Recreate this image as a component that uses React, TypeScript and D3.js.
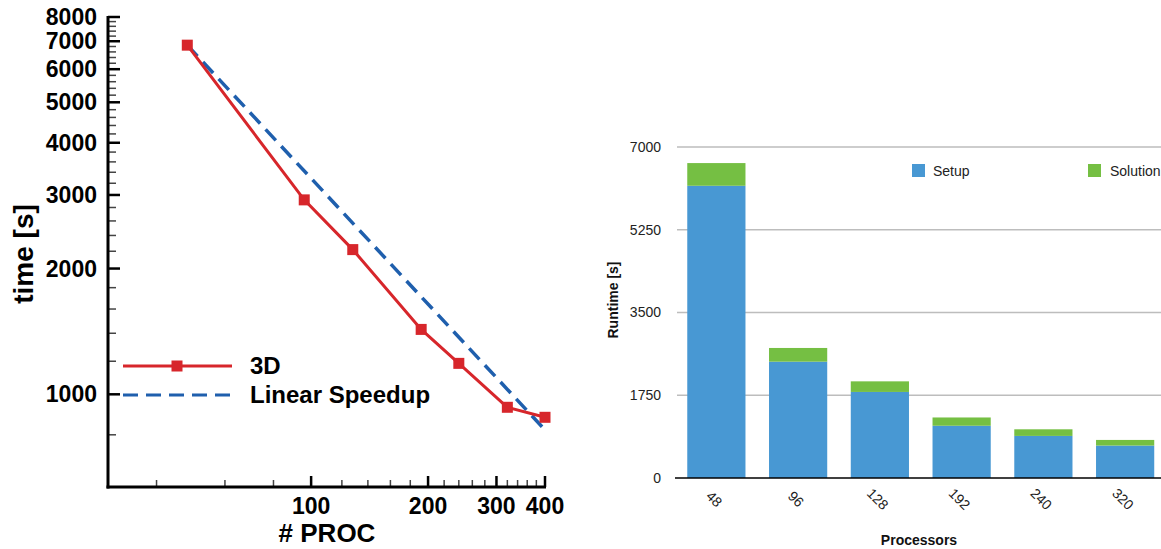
import React from 'react';
import * as d3 from 'd3';

// ---------- Left chart data (log-log scaling) ----------
const procs = [48, 96, 128, 192, 240, 320, 400];
const time3D = [6850, 2920, 2220, 1430, 1186, 931, 881];
const linearProcs = [48, 400];
const linearTime = [6850, 822];
const yMajorTicks = [1000, 2000, 3000, 4000, 5000, 6000, 7000, 8000];
const xMajorTicks = [100, 200, 300, 400];

// ---------- Right chart data (stacked bars) ----------
const barCategories = ['48', '96', '128', '192', '240', '320'];
const setupValues = [6180, 2460, 1820, 1105, 890, 686];
const solutionValues = [480, 290, 224, 175, 140, 119];
const runtimeTicks = [0, 1750, 3500, 5250, 7000];

const FONT = '"Liberation Sans", Arial, Helvetica, sans-serif';
const RED = '#d7262b';
const BLUE_DASH = '#1f5fad';
const BAR_BLUE = '#4898d3';
const BAR_GREEN = '#75bf43';

export default function App() {
  // Left chart scales
  const x = d3.scaleLog().domain([30, 400]).range([108, 545]);
  const y = d3.scaleLog().domain([600, 8000]).range([487, 17]);
  const xMinor = d3.range(40, 400, 20).filter((v) => !xMajorTicks.includes(v));
  const yMinor = d3.range(800, 8000, 200).filter((v) => !yMajorTicks.includes(v));

  const pts = procs.map((p, i) => [x(p), y(time3D[i])] as [number, number]);
  const line = d3.line();
  const linPts = linearProcs.map((p, i) => [x(p), y(linearTime[i])] as [number, number]);

  // Right chart scales
  const xb = d3.scaleBand().domain(barCategories).range([675, 1166.5]).paddingInner(0.288).paddingOuter(0.15);
  const yb = d3.scaleLinear().domain([0, 7000]).range([478, 147]);

  const ms = 11;

  return (
    <svg width={1161} height={549} style={{ position: 'absolute', left: 0, top: 0, background: '#fff' }} fontFamily={FONT}>
      <rect x={0} y={0} width={1161} height={549} fill="#fff" />
      {/* ===== Left chart ===== */}
      {yMinor.map((v) => (
        <line key={'ym' + v} x1={108} x2={116} y1={y(v)} y2={y(v)} stroke="#444" strokeWidth={1.5} />
      ))}
      {yMajorTicks.map((v) => (
        <g key={'yM' + v}>
          <line x1={108} x2={120} y1={y(v)} y2={y(v)} stroke="#000" strokeWidth={2.5} />
          <text x={97} y={y(v)} dy="0.35em" textAnchor="end" fontSize={23} fontWeight="bold" fill="#000">{v}</text>
        </g>
      ))}
      {xMinor.map((v) => (
        <line key={'xm' + v} x1={x(v)} x2={x(v)} y1={487} y2={480} stroke="#444" strokeWidth={1.5} />
      ))}
      {xMajorTicks.map((v) => (
        <g key={'xM' + v}>
          <line x1={x(v)} x2={x(v)} y1={487} y2={476} stroke="#000" strokeWidth={2.5} />
          <text x={x(v)} y={514} textAnchor="middle" fontSize={23} fontWeight="bold" fill="#000">{v}</text>
        </g>
      ))}
      <line x1={108} x2={108} y1={16} y2={488.5} stroke="#000" strokeWidth={3} />
      <line x1={106.5} x2={546} y1={487} y2={487} stroke="#000" strokeWidth={3} />
      <text x={327} y={542} textAnchor="middle" fontSize={26} fontWeight="bold" fill="#000"># PROC</text>
      <text transform={`translate(33,254) rotate(-90)`} textAnchor="middle" fontSize={28} fontWeight="bold" fill="#000">time [s]</text>

      <path d={line(linPts) || ''} fill="none" stroke={BLUE_DASH} strokeWidth={3.5} strokeDasharray="15 8" />
      <path d={line(pts) || ''} fill="none" stroke={RED} strokeWidth={3} />
      {pts.map(([px, py], i) => (
        <rect key={'m' + i} x={px - ms / 2} y={py - ms / 2} width={ms} height={ms} fill={RED} />
      ))}

      <line x1={123} x2={232} y1={366} y2={366} stroke={RED} strokeWidth={3} />
      <rect x={177 - ms / 2} y={366 - ms / 2} width={ms} height={ms} fill={RED} />
      <text x={250} y={374} fontSize={24} fontWeight="bold" fill="#000">3D</text>
      <line x1={123} x2={232} y1={395} y2={395} stroke={BLUE_DASH} strokeWidth={3} strokeDasharray="15 8" />
      <text x={250} y={403} fontSize={24} fontWeight="bold" fill="#000">Linear Speedup</text>

      {/* ===== Right chart ===== */}
      {runtimeTicks.map((v) => (
        <g key={'rt' + v}>
          {v !== 0 && <line x1={677} x2={1161} y1={yb(v)} y2={yb(v)} stroke="#bdbdbd" strokeWidth={1.5} />}
          <text x={661} y={yb(v)} dy="0.35em" textAnchor="end" fontSize={14} fill="#222">{v}</text>
        </g>
      ))}
      {barCategories.map((c, i) => {
        const bx = xb(c) as number;
        const bw = xb.bandwidth();
        const s = setupValues[i];
        const t = s + solutionValues[i];
        return (
          <g key={'b' + c}>
            <rect x={bx} y={yb(s)} width={bw} height={yb(0) - yb(s)} fill={BAR_BLUE} />
            <rect x={bx} y={yb(t)} width={bw} height={yb(s) - yb(t)} fill={BAR_GREEN} />
            <text
              transform={`translate(${bx + bw / 2 - 2},499) rotate(45)`}
              textAnchor="middle"
              dominantBaseline="central"
              fontSize={14}
              fill="#222"
            >
              {c}
            </text>
          </g>
        );
      })}
      <line x1={675} x2={1161} y1={478} y2={478} stroke="#000" strokeWidth={1.5} />
      <text x={919} y={545} textAnchor="middle" fontSize={14} fontWeight="bold" fill="#111">Processors</text>
      <text transform={`translate(618,300) rotate(-90)`} textAnchor="middle" fontSize={14} fontWeight="bold" fill="#111">Runtime [s]</text>

      <rect x={912} y={164} width={13} height={13} fill={BAR_BLUE} />
      <text x={933} y={176} fontSize={14} fill="#222">Setup</text>
      <rect x={1088} y={164} width={13} height={13} fill={BAR_GREEN} />
      <text x={1110} y={176} fontSize={14} fill="#222">Solution</text>
    </svg>
  );
}
